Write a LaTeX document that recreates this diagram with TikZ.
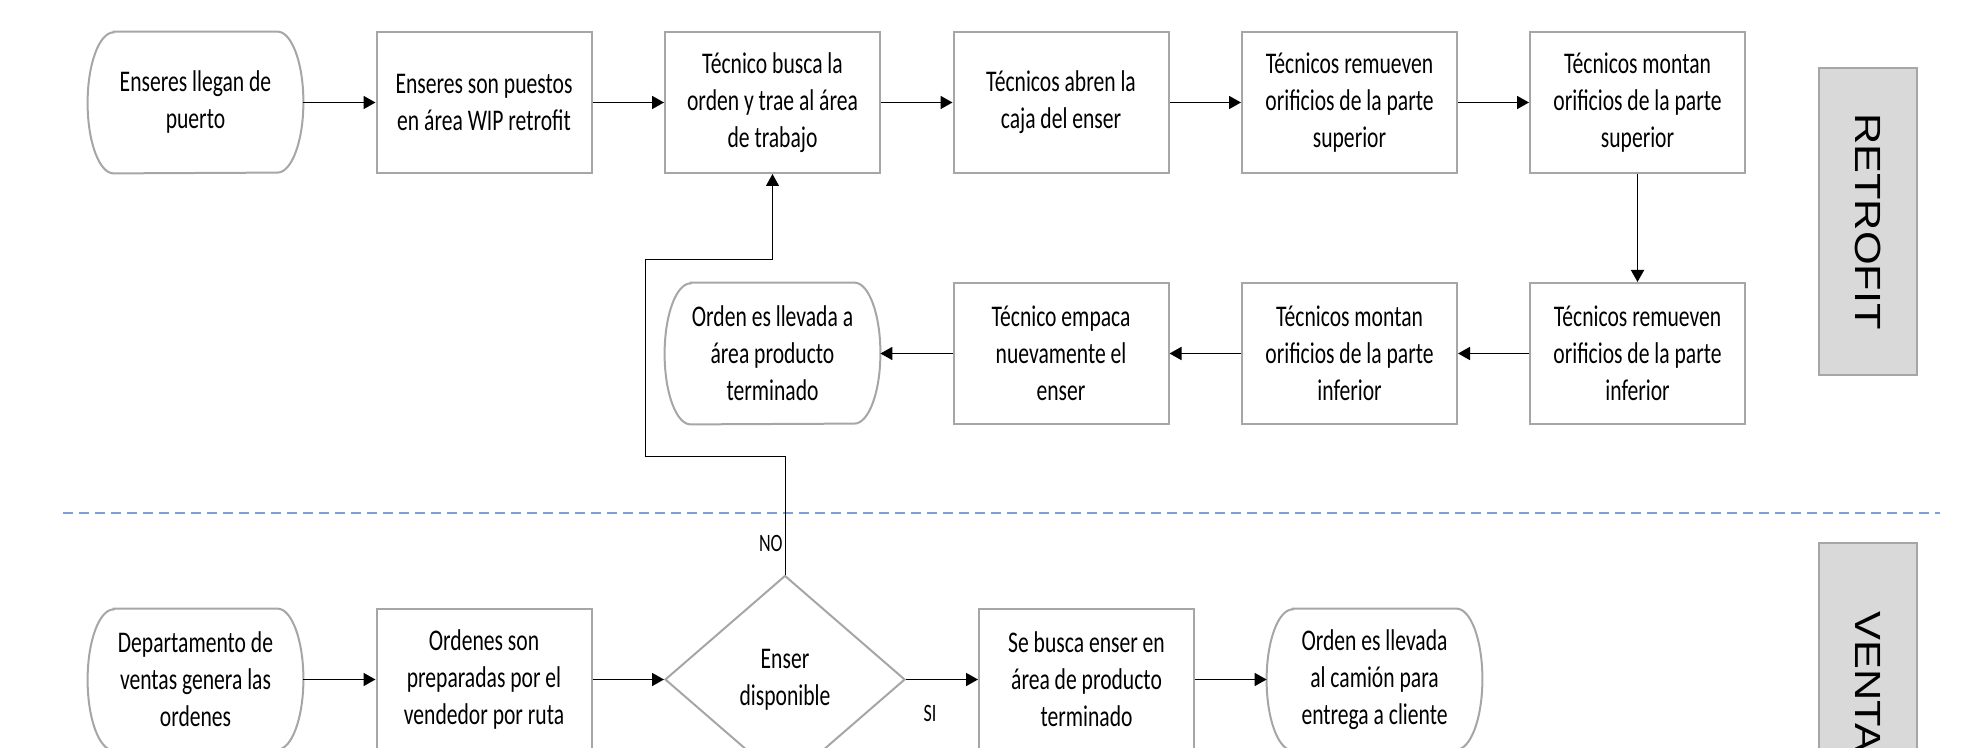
\documentclass[tikz,border=0pt]{standalone}
\usepackage{fontspec}
\setmainfont{Carlito}[FakeStretch=0.72]
\newfontfamily\lanefont{Liberation Sans}[FakeStretch=1.19]
\usetikzlibrary{shapes.geometric,arrows.meta}
\definecolor{boxgray}{HTML}{A6A6A6}
\definecolor{lanefill}{HTML}{D9D9D9}
\definecolor{sepblue}{HTML}{7F9FDA}

\begin{document}
\begin{tikzpicture}[x=0.5pt, y=-0.5pt, font=\fontsize{15}{18.5}\selectfont]
    \tikzstyle{every node}=[align=center, inner sep=0pt]
    \tikzstyle{proc}=[rectangle, draw=boxgray, line width=1pt, minimum width=107.5pt, minimum height=70.5pt]
    \tikzstyle{term}=[rectangle, minimum width=107.5pt, minimum height=70.5pt]
    \tikzstyle{decision}=[diamond, draw=boxgray, line width=1pt, minimum width=120pt, minimum height=104pt]
    \tikzstyle{lane}=[rectangle, draw=boxgray, fill=lanefill, line width=1pt, minimum width=153.5pt, minimum height=49pt, rotate=-90, font=\lanefont\fontsize{18.2}{20}\selectfont, text=black]
    \tikzstyle{flow}=[-{Triangle[length=6pt,width=6.5pt]}, line width=0.85pt]
    \tikzstyle{answer}=[font=\fontsize{12.5}{14}\selectfont]
    \useasboundingbox (0,0) rectangle (1963,748);
    \draw[sepblue, line width=0.75pt, dash pattern=on 5pt off 3pt] (63,513) -- (1940,513);
    \node (t1) [term] at (195.5,102.5) {Enseres llegan de\\puerto};
    \node (b2) [proc] at (484,102.5) {Enseres son puestos\\en área WIP retrofit};
    \node (b3) [proc] at (772.5,102.5) {Técnico busca la\\orden y trae al área\\de trabajo};
    \node (b4) [proc] at (1061,102.5) {Técnicos abren la\\caja del enser};
    \node (b5) [proc] at (1349.5,102.5) {Técnicos remueven\\orificios de la parte\\superior};
    \node (b6) [proc] at (1637.5,102.5) {Técnicos montan\\orificios de la parte\\superior};
    \node (b7) [proc] at (1637.5,353.5) {Técnicos remueven\\orificios de la parte\\inferior};
    \node (b8) [proc] at (1349.5,353.5) {Técnicos montan\\orificios de la parte\\inferior};
    \node (b9) [proc] at (1061,353.5) {Técnico empaca\\nuevamente el\\enser};
    \node (t2) [term] at (772.5,353.5) {Orden es llevada a\\área producto\\terminado};
    \node (v1) [term] at (195.5,679.5) {Departamento de\\ventas genera las\\ordenes};
    \node (v2) [proc] at (484,679.5) {Ordenes son\\preparadas por el\\vendedor por ruta};
    \node (d1) [decision] at (785,679.5) {Enser\\disponible};
    \node (v3) [proc] at (1086.5,679.5) {Se busca enser en\\área de producto\\terminado};
    \node (v4) [term] at (1374.5,679.5) {Orden es llevada\\al camión para\\entrega a cliente};
    \node (retro) [lane] at (1868,221.5) {RETROFIT};
    \node (ventas) [lane] at (1868,696.5) {VENTAS};
    \foreach \n in {t1,t2,v1,v4}
        \draw[boxgray, line width=1pt] ([xshift=13pt]\n.north west) -- ([xshift=-13pt]\n.north east) arc[start angle=90, end angle=-90, x radius=13pt, y radius=35.25pt] -- ([xshift=13pt]\n.south west) arc[start angle=270, end angle=90, x radius=13pt, y radius=35.25pt] -- cycle;
    \draw[flow] (t1.east) -- (b2.west);
    \draw[flow] (b2.east) -- (b3.west);
    \draw[flow] (b3.east) -- (b4.west);
    \draw[flow] (b4.east) -- (b5.west);
    \draw[flow] (b5.east) -- (b6.west);
    \draw[flow] (b6.south) -- (b7.north);
    \draw[flow] (b7.west) -- (b8.east);
    \draw[flow] (b8.west) -- (b9.east);
    \draw[flow] (b9.west) -- (t2.east);
    \draw[flow] (v1.east) -- (v2.west);
    \draw[flow] (v2.east) -- (d1.west);
    \draw[flow] (d1.east) -- (v3.west);
    \draw[flow] (v3.east) -- (v4.west);
    \coordinate (k1) at (645,456);
    \coordinate (k2) at (645,260);
    \draw[-{Triangle[length=6pt,width=6.5pt]}, line width=0.5pt] (d1.north) |- (k1) -- (k2) -| (b3.south);
    \node (no) [answer, anchor=east] at (783,543) {NO};
    \node (si) [answer] at (930,713) {SI};
\end{tikzpicture}
\end{document}
